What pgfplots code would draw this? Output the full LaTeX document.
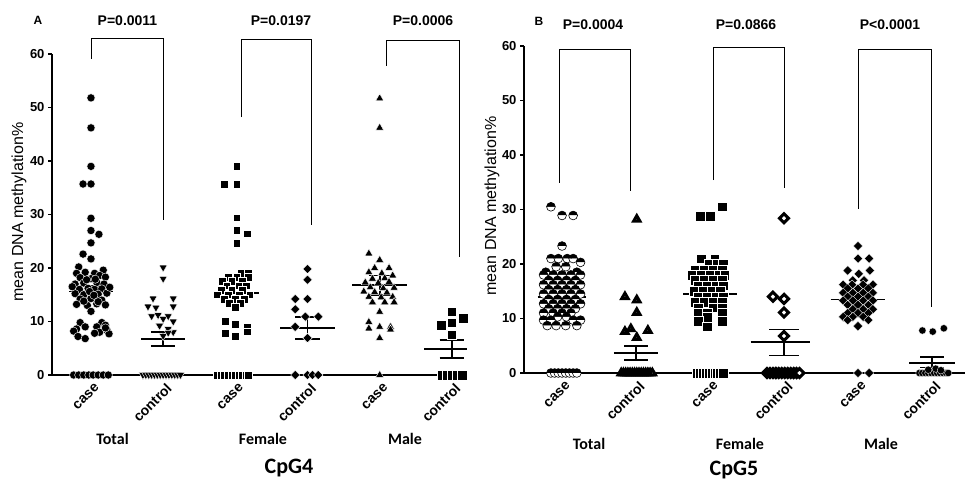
\documentclass[border=0pt]{standalone}
\usepackage{fontspec}
\setmainfont{Liberation Sans}
\newfontfamily\calib{Carlito}
\usepackage{pgfplots}
\pgfplotsset{compat=1.18}
\usetikzlibrary{plotmarks}

\pgfplotsset{
  dotplot/.style={
    scale only axis, anchor=south west,
    ymin=0, ymax=60, ytick={0,10,...,60},
    axis x line=bottom, axis y line=left,
    axis line style={-, line width=1.6pt},
    tick align=outside, major tick length=4pt,
    every tick/.style={black, line width=1.2pt},
    xtick={0,...,5},
    xticklabels={case,control,case,control,case,control},
    x tick style={draw=none},
    yticklabel style={font=\fontsize{13}{15}\selectfont\bfseries},
    xticklabel style={font=\fontsize{14}{16}\selectfont\bfseries, rotate=45, anchor=east, yshift=-9pt, xshift=3pt},
    /pgf/number format/assume math mode=true,
    unbounded coords=jump,
    clip=false,
  },
  grp/.style={black, line width=1.8pt, forget plot},
  brk/.style={black, line width=0.9pt, forget plot},
  pts/.style={only marks, forget plot},
}
\tikzset{
  lab/.style={font=\fontsize{14}{16}\selectfont\bfseries},
  grl/.style={font=\calib\fontsize{16}{19}\selectfont\bfseries},
  cpg/.style={font=\calib\fontsize{22}{26}\selectfont\bfseries},
}

\begin{document}
\begin{tikzpicture}[x=1pt,y=1pt]
\path[use as bounding box] (0,0) rectangle (965,480);

% ---------------- panel A : CpG4
\begin{axis}[dotplot, at={(52pt,105pt)}, width=415pt, height=321pt,
  xmin=-0.54, xmax=5.21]
% Total case
\addplot[pts, draw=white, fill=black, line width=0.4pt, mark=*, mark size=4.1pt] coordinates {
 (-0.24,0)(-0.17,0)(-0.1,0)(-0.03,0)(0.03,0)(0.1,0)(0.17,0)(0.24,0)
 (0,51.8)(0,46.2)(0,39.0)(-0.11,35.7)(0,35.7)(0,29.3)(0,27.0)(0.11,26.3)(0,24.7)
 (-0.11,22.6)(0,21.7)(-0.17,20.2)(0.17,19.6)
 (-0.2,19.0)(-0.08,19.2)(0.05,19.0)(0.12,18.6)(-0.15,18.2)(0,18.0)(0.2,18.3)
 (-0.22,17.0)(-0.1,17.2)(0.08,17.3)(0.18,17.0)(-0.16,16.0)(-0.04,16.2)(0.05,16.0)(0.15,16.1)
 (-0.22,15.2)(-0.1,15.0)(0.1,15.1)(0.22,15.3)(-0.15,14.2)(0,14.3)(0.15,14.0)
 (-0.2,13.2)(-0.05,13.0)(0.08,13.3)(0.2,13.1)(0,11.9)
 (-0.06,17.8)(0.06,17.9)(-0.02,15.6)(0.04,14.9)(-0.1,13.8)(0.1,13.7)(-0.26,16.5)(0.26,16.4)
 (-0.15,9.8)(0.15,9.8)(0.2,9.3)(-0.2,8.6)(-0.08,9.0)(0.08,9.0)(0.22,8.4)(-0.24,8.2)
 (0.12,8.0)(0.25,7.7)(-0.18,7.2)(-0.08,6.8)(0.05,7.8)(0.2,8.8)
};
% Total control
\addplot[pts, draw=white, fill=black, line width=0.4pt, mark=triangle*, mark size=4.6pt, mark options={rotate=180}] coordinates {
 (0.72,0)(0.76,0)(0.8,0)(0.84,0)(0.88,0)(0.92,0)(0.96,0)(1.0,0)(1.04,0)(1.08,0)(1.12,0)(1.16,0)(1.2,0)(1.24,0)
 (1.0,20.1)(1.0,18.0)(0.86,14.3)(1.14,14.3)(0.79,12.8)(0.9,12.6)(1.14,12.8)(0.84,11.0)(0.93,11.2)
 (1.0,10.5)(1.07,11.0)(1.14,10.0)(0.95,9.2)(1.07,8.6)(1.14,8.0)(1.0,7.3)(1.07,7.9)
};
% Female case
\addplot[pts, draw=white, fill=black, line width=0.4pt, mark=square*, mark size=3.9pt] coordinates {
 (1.75,0)(1.8,0)(1.85,0)(1.9,0)(1.95,0)(2.0,0)(2.05,0)(2.1,0)(2.15,0)(2.18,0)
 (2.02,39.0)(1.85,35.7)(2.02,35.7)(2.02,29.4)(2.02,27.1)(2.16,26.4)(2.02,24.7)
 (2.08,19.1)(2.18,19.1)(1.9,18.3)(2.02,18.3)(2.18,18.3)(1.82,17.5)(1.95,17.5)(2.1,17.5)
 (1.88,16.7)(2.05,16.7)(2.15,16.7)(1.8,15.8)(1.95,15.8)(2.1,15.8)(1.75,15.0)(1.9,15.0)(2.05,15.0)(2.2,15.0)
 (1.85,14.2)(2.0,14.2)(2.12,14.2)(1.92,13.4)(2.07,13.4)(2.0,12.7)
 (1.86,10.0)(2.0,9.5)(2.16,9.0)(1.86,7.8)(2.0,7.2)(2.16,8.1)
};
% Female control
\addplot[pts, draw=white, fill=black, line width=0.4pt, mark=square*, mark size=3.3pt, mark options={rotate=45}] coordinates {
 (2.83,0)(3.0,0)(3.07,0)(3.15,0)
 (3.0,19.8)(3.0,17.8)(2.83,14.2)(3.0,14.2)(2.83,12.3)(3.15,10.9)(2.97,10.9)(2.83,9.0)(3.0,6.9)
};
% Male case
\addplot[pts, draw=white, fill=black, line width=0.4pt, mark=triangle*, mark size=4.6pt] coordinates {
 (4,51.7)(4,46.2)(3.85,22.7)(4,21.5)(3.93,20.0)(4.13,20.0)(3.85,19.2)(4.03,19.0)(4.18,18.6)
 (3.9,18.0)(4.07,18.1)(3.8,17.3)(3.98,17.2)(4.13,17.4)(3.87,16.4)(4.05,16.2)(4.2,16.3)
 (3.78,15.6)(3.93,15.5)(4.1,15.4)(3.85,14.6)(4.02,14.5)(4.18,14.6)(3.9,13.6)(4.07,13.6)(4.2,13.6)
 (4,11.8)(3.85,9.9)(4,9.0)(4.15,9.0)(3.85,8.7)(4.15,8.5)(4,6.9)(4,0)
};
% Male control
\addplot[pts, draw=white, fill=black, line width=0.4pt, mark=square*, mark size=4.8pt] coordinates {
 (4.86,0)(4.93,0)(5.0,0)(5.07,0)(5.14,0)
 (5.0,11.8)(4.85,9.3)(5.0,9.8)(5.16,10.6)(5.0,7.5)
};
% mean and SEM
\addplot[grp] coordinates {(-0.3,15.6)(0.3,15.6)(nan,nan)(0,14.5)(0,16.7)(nan,nan)(-0.15,14.5)(0.15,14.5)(nan,nan)(-0.15,16.7)(0.15,16.7)};
\addplot[grp] coordinates {(0.7,6.7)(1.3,6.7)(nan,nan)(1,5.4)(1,8.0)(nan,nan)(0.83,5.4)(1.17,5.4)(nan,nan)(0.83,8.0)(1.17,8.0)};
\addplot[grp] coordinates {(1.7,15.3)(2.33,15.3)(nan,nan)(2,13.6)(2,17.0)(nan,nan)(1.85,13.6)(2.15,13.6)(nan,nan)(1.85,17.0)(2.15,17.0)};
\addplot[grp] coordinates {(2.62,8.8)(3.38,8.8)(nan,nan)(3,6.8)(3,10.8)(nan,nan)(2.83,6.8)(3.17,6.8)(nan,nan)(2.83,10.8)(3.17,10.8)};
\addplot[grp] coordinates {(3.62,16.8)(4.38,16.8)(nan,nan)(4,15.0)(4,18.6)(nan,nan)(3.85,15.0)(4.15,15.0)(nan,nan)(3.85,18.6)(4.15,18.6)};
\addplot[grp] coordinates {(4.62,4.8)(5.21,4.8)(nan,nan)(5,3.2)(5,6.5)(nan,nan)(4.83,3.2)(5.17,3.2)(nan,nan)(4.83,6.5)(5.17,6.5)};
% brackets
\addplot[brk] coordinates {(0,59.1)(0,63.0)(1.0,63.0)(1.0,29.0)};
\addplot[brk] coordinates {(2.09,48.2)(2.09,62.7)(3.06,62.7)(3.06,28.0)};
\addplot[brk] coordinates {(4.10,57.8)(4.10,62.5)(5.11,62.5)(5.11,22.1)};
\end{axis}

% ---------------- panel B : CpG5
\begin{axis}[dotplot, at={(524pt,107pt)}, width=441pt, height=327pt,
  xmin=-0.514, xmax=5.446]
% Total case
\addplot[pts, draw=black, fill=black, line width=0.6pt, mark=halfcircle*, mark size=4.4pt] coordinates {
 (-0.15,0)(-0.1,0)(-0.05,0)(0,0)(0.05,0)(0.1,0)(0.15,0)(0.2,0)
 (-0.15,30.5)(0,28.9)(0.15,28.9)(0,23.3)
 (-0.15,21.0)(-0.05,21.0)(0.07,21.0)(0.15,21.0)(0.25,20.3)(-0.08,19.5)(0.05,19.5)
 (-0.22,18.5)(0.2,18.5)(-0.25,18.0)(-0.12,18.0)(0,18.0)(0.12,18.0)(0.25,18.0)
 (-0.18,17.0)(-0.06,17.0)(0.06,17.0)(0.18,17.0)
 (-0.25,16.2)(-0.12,16.2)(0,16.2)(0.12,16.2)(0.25,16.2)
 (-0.18,15.3)(-0.06,15.3)(0.06,15.3)(0.18,15.3)
 (-0.25,14.5)(-0.12,14.5)(0,14.5)(0.12,14.5)(0.25,14.5)
 (-0.18,13.5)(-0.06,13.5)(0.06,13.5)(0.18,13.5)
 (-0.25,12.7)(-0.12,12.7)(0,12.7)(0.12,12.7)(0.25,12.7)
 (-0.18,11.8)(-0.06,11.8)(0.06,11.8)(0.18,11.8)
 (-0.25,11.0)(-0.12,11.0)(0,11.0)(0.12,11.0)(-0.06,10.3)(0.06,10.3)
 (-0.25,9.7)(-0.15,9.7)(0.15,9.7)(0.25,9.7)(-0.2,8.7)(-0.08,8.7)(0.05,8.7)(0.2,8.7)
};
% Total control
\addplot[pts, mark=triangle*, mark size=3.6pt, mark options={draw=black, fill=white, line width=3pt, line join=miter}] coordinates {
 (0.8,0)(0.83,0)(0.86,0)(0.89,0)(0.92,0)(0.95,0)(0.98,0)(1.01,0)(1.04,0)(1.07,0)(1.1,0)(1.13,0)(1.16,0)(1.19,0)(1.22,0)
 (0.85,14.0)(1.01,13.4)(1.01,11.1)(0.85,7.6)(0.93,8.1)(1.01,6.5)(1.16,7.8)(1.01,28.2)
};
% Female case
\addplot[pts, draw=white, fill=black, line width=0.3pt, mark=square*, mark size=4.8pt] coordinates {
 (1.82,0)(1.86,0)(1.9,0)(1.94,0)(1.98,0)(2.02,0)(2.06,0)(2.1,0)(2.14,0)(2.18,0)
 (1.87,28.8)(2.0,28.8)(2.16,30.5)
 (1.88,21.0)(2.06,21.0)(1.98,20.0)(2.1,20.0)(2.18,20.0)
 (1.8,19.0)(1.92,19.0)(2.04,19.0)(2.16,19.0)
 (1.76,18.0)(1.88,18.0)(2.0,18.0)(2.12,18.0)(2.2,18.0)
 (1.8,17.0)(1.92,17.0)(2.04,17.0)(2.16,17.0)
 (1.84,16.0)(1.96,16.0)(2.08,16.0)(2.18,16.0)
 (1.78,15.0)(1.9,15.0)(2.02,15.0)(2.14,15.0)
 (1.84,14.0)(1.96,14.0)(2.08,14.0)(2.18,14.0)
 (1.8,13.0)(1.92,13.0)(2.04,13.0)(2.16,13.0)
 (1.84,12.0)(2.04,12.0)(2.16,12.0)
 (1.84,11.0)(1.96,11.0)(2.16,11.0)(1.96,10.3)(1.84,9.5)(2.16,9.5)(1.96,8.5)
};
% Female control
\addplot[pts, mark=square*, mark size=3.2pt, mark options={rotate=45, draw=black, fill=white, line width=3pt}] coordinates {
 (2.77,0)(2.81,0)(2.85,0)(2.89,0)(2.93,0)(2.97,0)(3.01,0)(3.05,0)(3.09,0)(3.13,0)(3.17,0)(3.21,0)
 (3.0,28.4)(2.85,14.0)(3.0,13.6)(3.0,11.1)(3.0,6.8)
};
% Male case
\addplot[pts, draw=white, fill=black, line width=0.3pt, mark=square*, mark size=3.3pt, mark options={rotate=45}] coordinates {
 (4,0)(4.15,0)
 (4,23.3)(4,21.0)(4.15,21.0)(3.86,18.8)(4.16,18.8)(4.01,18.2)(3.93,17.0)(4.08,17.0)
 (3.8,16.2)(3.92,16.2)(4.07,16.2)(4.2,16.2)(3.86,15.5)(4.0,15.5)(4.14,15.5)
 (3.8,14.7)(3.93,14.7)(4.07,14.7)(4.2,14.7)(3.86,14.0)(4.0,14.0)(4.14,14.0)
 (3.8,13.3)(3.93,13.3)(4.07,13.3)(4.2,13.3)(3.86,12.5)(4.0,12.5)(4.14,12.5)
 (3.93,11.7)(4.07,11.7)(4.2,11.7)(3.86,11.0)(4.0,11.0)(4.14,11.0)
 (3.8,10.3)(3.93,10.3)(4.07,10.3)(3.86,9.7)(4.14,9.7)(4.0,8.6)
};
% Male control
\addplot[pts, draw=white, fill=black, line width=0.3pt, mark=*, mark size=3.7pt] coordinates {
 (4.83,0)(4.87,0)(4.91,0)(4.95,0)(4.99,0)(5.03,0)(5.07,0)(5.11,0)(5.15,0)(5.19,0)(5.22,0)
 (4.95,0.6)(5.05,0.8)(5.12,0.5)
 (4.87,7.8)(5.01,7.6)(5.16,8.2)
};
% mean and SEM
\addplot[grp] coordinates {(-0.33,14.0)(0.33,14.0)(nan,nan)(0,13.4)(0,14.6)(nan,nan)(-0.15,13.4)(0.15,13.4)(nan,nan)(-0.15,14.6)(0.15,14.6)};
\addplot[grp] coordinates {(0.7,3.7)(1.3,3.7)(nan,nan)(1,2.4)(1,5.0)(nan,nan)(0.84,2.4)(1.16,2.4)(nan,nan)(0.84,5.0)(1.16,5.0)};
\addplot[grp] coordinates {(1.64,14.5)(2.36,14.5)(nan,nan)(2,13.6)(2,15.4)(nan,nan)(1.85,13.6)(2.15,13.6)(nan,nan)(1.85,15.4)(2.15,15.4)};
\addplot[grp] coordinates {(2.55,5.7)(3.35,5.7)(nan,nan)(3,3.2)(3,8.0)(nan,nan)(2.8,3.2)(3.2,3.2)(nan,nan)(2.8,8.0)(3.2,8.0)};
\addplot[grp] coordinates {(3.63,13.5)(4.37,13.5)(nan,nan)(4,12.8)(4,14.2)(nan,nan)(3.85,12.8)(4.15,12.8)(nan,nan)(3.85,14.2)(4.15,14.2)};
\addplot[grp] coordinates {(4.69,1.9)(5.31,1.9)(nan,nan)(5,1.0)(5,2.9)(nan,nan)(4.84,1.0)(5.16,1.0)(nan,nan)(4.84,2.9)(5.16,2.9)};
% brackets
\addplot[brk] coordinates {(-0.03,34.9)(-0.03,59.3)(0.93,59.3)(0.93,33.4)};
\addplot[brk] coordinates {(2.04,35.4)(2.04,59.7)(3.0,59.7)(3.0,34.0)};
\addplot[brk] coordinates {(4.0,30.1)(4.0,59.3)(4.99,59.3)(4.99,12.1)};
\end{axis}

% ---------------- texts
\node[font=\fontsize{12}{14}\selectfont\bfseries] at (38,460) {A};
\node[lab] at (127.5,459) {P=0.0011};
\node[lab] at (281,459) {P=0.0197};
\node[lab] at (423,459) {P=0.0006};
\node[font=\fontsize{12}{14}\selectfont\bfseries] at (539,459) {B};
\node[lab] at (593,455) {P=0.0004};
\node[lab] at (746,455) {P=0.0866};
\node[lab] at (890,455) {P<0.0001};
\node[rotate=90, font=\fontsize{16}{19}\selectfont] at (19,268) {mean DNA methylation\%};
\node[rotate=90, font=\fontsize{16}{19}\selectfont] at (492,274) {mean DNA methylation\%};
\node[grl] at (112.5,41) {Total};
\node[grl] at (263,41) {Female};
\node[grl] at (405,41) {Male};
\node[cpg] at (289,12) {CpG4};
\node[grl] at (589,36) {Total};
\node[grl] at (740,36) {Female};
\node[grl] at (881,36) {Male};
\node[cpg] at (734,10) {CpG5};
\end{tikzpicture}
\end{document}
